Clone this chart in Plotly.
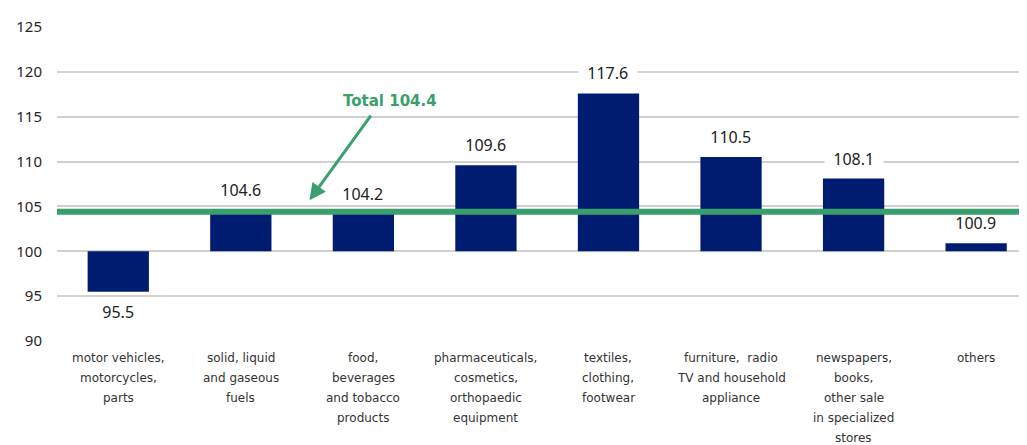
import plotly.graph_objects as go

categories = [
    "motor vehicles,<br>motorcycles,<br>parts",
    "solid, liquid<br>and gaseous<br>fuels",
    "food,<br>beverages<br>and tobacco<br>products",
    "pharmaceuticals,<br>cosmetics,<br>orthopaedic<br>equipment",
    "textiles,<br>clothing,<br>footwear",
    "furniture,  radio<br>TV and household<br>appliance",
    "newspapers,<br>books,<br>other sale<br>in specialized<br>stores",
    "others",
]
values = [95.5, 104.6, 104.2, 109.6, 117.6, 110.5, 108.1, 100.9]
base_value = 100
total_value = 104.4
y_ticks = [90, 95, 100, 105, 110, 115, 120, 125]

NAVY = "#001c71"
GREEN = "#3a9f6c"

xs = list(range(len(categories)))
fig = go.Figure()
fig.add_trace(go.Bar(
    x=xs,
    y=[v - base_value for v in values],
    base=base_value,
    width=0.5,
    marker=dict(color=NAVY, line=dict(width=0)),
    hoverinfo="skip",
))

fig.add_shape(type="line", xref="paper", x0=0, x1=1, yref="y",
              y0=total_value, y1=total_value,
              line=dict(color=GREEN, width=6), layer="above")

# value labels (white box only where a label sits on a gridline)
px_per_unit = 319 / 35.0
for i, v in enumerate(values):
    above = v >= base_value
    shift = 20 if above else -20
    label_pos = v + shift / px_per_unit
    nearest = min(y_ticks, key=lambda t: abs(t - label_pos))
    on_grid = abs(nearest - label_pos) < 1 and abs(label_pos - total_value) > 2
    fig.add_annotation(x=i, y=v, xref="x", yref="y", yanchor="middle",
                       yshift=shift,
                       text="&nbsp;&nbsp;" + f"{v:.1f}" + "&nbsp;&nbsp;",
                       showarrow=False,
                       bgcolor="white" if on_grid else "rgba(0,0,0,0)",
                       borderpad=0,
                       font=dict(family="Noto Sans", size=16, color="#222222"))

fig.add_annotation(x=1.56, y=105.7, ax=2.07, ay=115.3, xref="x", yref="y",
                   axref="x", ayref="y", text="", showarrow=True,
                   arrowhead=2, arrowsize=1.1, arrowwidth=3, arrowcolor=GREEN)
fig.add_annotation(x=2.22, y=116.8, xref="x", yref="y", text="<b>Total 104.4</b>",
                   showarrow=False, font=dict(family="DejaVu Sans", size=15, color=GREEN))

for i, cat in enumerate(categories):
    for j, line in enumerate(cat.split("<br>")):
        fig.add_annotation(x=i, y=0, xref="x", yref="paper", yanchor="top",
                           yshift=-8 - 20 * j, text=line, showarrow=False,
                           font=dict(family="DejaVu Sans", size=12, color="#333333"))

fig.update_layout(
    width=1027, height=445,
    margin=dict(l=45, r=8, t=14, b=112),
    plot_bgcolor="white", paper_bgcolor="white",
    showlegend=False,
    bargap=0.5,
)
fig.update_xaxes(range=[-0.5, 7.415], showticklabels=False, showgrid=False,
                 zeroline=False, showline=False, ticks="")
fig.update_yaxes(range=[90, 125], tickvals=y_ticks, showgrid=True,
                 gridcolor="#d0d0d0", gridwidth=2, zeroline=False, showline=False,
                 tickfont=dict(family="Noto Sans", size=15, color="#262626"),
                 ticklabelstandoff=14)

fig.write_html("out.html")
